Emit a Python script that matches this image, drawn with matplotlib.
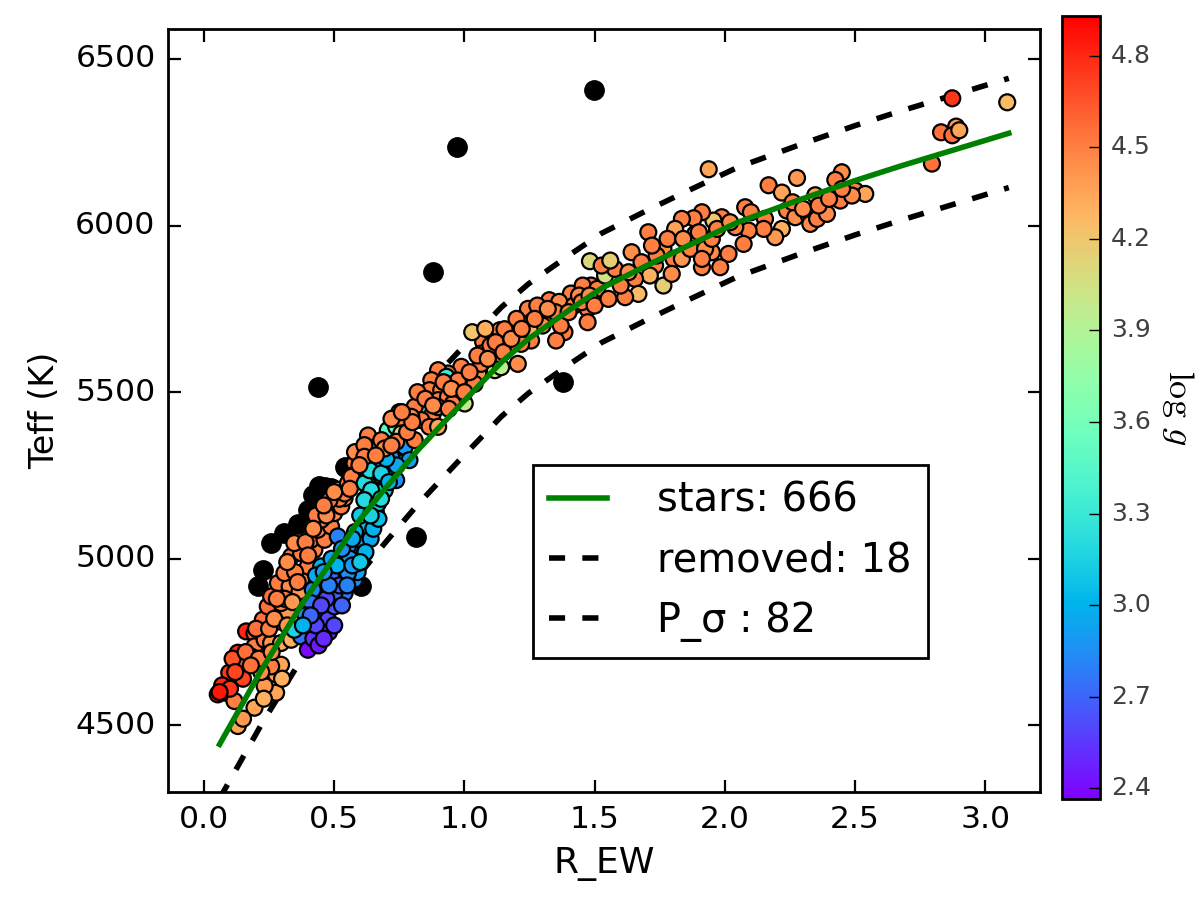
import matplotlib
matplotlib.use('Agg')
import matplotlib.pyplot as plt
import numpy as np

plt.style.use('classic')

# --- stars kept in the fit (R_EW, Teff, log g) ---
# cool dwarfs, low R_EW
dwarf_r = [0.053, 0.085, 0.097, 0.13, 0.162, 0.194, 0.117, 0.194, 0.13, 0.277,
           0.233, 0.277, 0.296, 0.258, 0.233, 0.194, 0.18, 0.233, 0.258, 0.296,
           0.335, 0.29, 0.226, 0.245, 0.322, 0.296, 0.258, 0.284, 0.329, 0.367,
           0.309, 0.373, 0.399, 0.335, 0.373, 0.347, 0.424, 0.411, 0.463, 0.437,
           0.488, 0.45, 0.5, 0.476, 0.527, 0.54, 0.514, 0.553, 0.591, 0.61,
           0.617, 0.578, 0.07, 0.10, 0.14, 0.15, 0.11, 0.16, 0.20, 0.22,
           0.25, 0.27, 0.31, 0.35, 0.39, 0.43, 0.47, 0.52, 0.57, 0.23,
           0.15, 0.30, 0.54, 0.482, 0.566, 0.28, 0.32, 0.36, 0.40, 0.42,
           0.46, 0.50, 0.56, 0.60, 0.21, 0.26, 0.32, 0.34, 0.18, 0.12,
           0.06, 0.58, 0.63]
dwarf_t = [4593, 4598, 4658, 4718, 4782, 4776, 4573, 4553, 4498, 4598,
           4618, 4653, 4682, 4677, 4717, 4737, 4707, 4757, 4747, 4747,
           4757, 4812, 4817, 4857, 4842, 4867, 4887, 4927, 4917, 4902,
           4957, 4937, 4977, 5007, 5017, 5047, 5027, 5057, 5057, 5087,
           5097, 5117, 5137, 5167, 5157, 5182, 5207, 5227, 5247, 5262,
           5337, 5287, 4620, 4610, 4680, 4640, 4700, 4720, 4790, 4660,
           4790, 4820, 4880, 4960, 5050, 5130, 5130, 5180, 5250, 4580,
           4520, 4640, 5196, 5176, 5246, 4880, 4990, 4930, 5010, 5090,
           5160, 5200, 5210, 5290, 4700, 4720, 4800, 4870, 4680, 4660,
           4600, 5320, 5370]
dwarf_g = [4.85, 4.8, 4.75, 4.8, 4.8, 4.6, 4.5, 4.35, 4.35, 4.35,
           4.4, 4.35, 4.35, 4.5, 4.55, 4.5, 4.6, 4.5, 4.4, 4.35,
           4.3, 4.5, 4.55, 4.55, 4.4, 4.5, 4.55, 4.5, 4.45, 4.4,
           4.5, 4.45, 4.5, 4.55, 4.5, 4.45, 4.5, 4.55, 4.5, 4.45,
           4.5, 4.5, 4.45, 4.5, 4.5, 4.45, 4.5, 4.5, 4.45, 4.5,
           4.45, 4.5, 4.8, 4.75, 4.6, 4.7, 4.65, 4.55, 4.55, 4.45,
           4.5, 4.45, 4.5, 4.5, 4.5, 4.5, 4.45, 4.5, 4.5, 4.3,
           4.4, 4.3, 4.5, 4.5, 4.5, 4.5, 4.45, 4.5, 4.5, 4.45,
           4.5, 4.45, 4.5, 4.45, 4.5, 4.45, 4.4, 4.4, 4.55, 4.7,
           4.85, 4.45, 4.5]

# giants (blue branch)
giant_r = [0.514, 0.553, 0.527, 0.488, 0.45, 0.463, 0.418, 0.411, 0.437, 0.399,
           0.476, 0.373, 0.399, 0.456, 0.501, 0.54, 0.578, 0.59, 0.591, 0.617,
           0.604, 0.63, 0.655, 0.642, 0.668, 0.655, 0.681, 0.707, 0.732, 0.668,
           0.617, 0.642, 0.347, 0.553, 0.501, 0.42, 0.44, 0.47, 0.52, 0.56,
           0.58, 0.49, 0.53, 0.60, 0.62, 0.70, 0.45, 0.48, 0.39, 0.43,
           0.51, 0.57, 0.64, 0.66, 0.69, 0.72, 0.771, 0.719, 0.668, 0.789,
           0.636, 0.681, 0.738, 0.694, 0.642, 0.616, 0.668, 0.661, 0.706, 0.738,
           0.43, 0.46, 0.50, 0.53, 0.55, 0.57, 0.62, 0.65, 0.67, 0.68,
           0.71, 0.74, 0.48, 0.46, 0.41, 0.38, 0.60, 0.64, 0.70]
giant_t = [5067, 5037, 4982, 4947, 4977, 4927, 4907, 4867, 4827, 4797,
           4817, 4767, 4727, 4777, 4857, 4897, 4937, 4960, 4987, 5017,
           5057, 5097, 5117, 5157, 5187, 5227, 5247, 5287, 5327, 5287,
           5227, 5317, 4787, 4957, 4897, 4760, 4740, 4880, 4920, 5000,
           5080, 5000, 5030, 5130, 5180, 5260, 4860, 4780, 4830, 4950,
           4980, 5060, 5060, 5140, 5210, 5250, 5336, 5306, 5296, 5296,
           5266, 5256, 5236, 5206, 5206, 5176, 5166, 5336, 5386, 5396,
           4800, 4760, 4800, 4860, 4920, 4980, 5020, 5090, 5120, 5180,
           5230, 5280, 4920, 4960, 4830, 4800, 4990, 5130, 5300]
giant_g = [2.8, 2.8, 2.75, 2.7, 3.0, 2.7, 2.8, 2.75, 2.65, 2.7,
           2.6, 2.75, 2.4, 2.5, 2.65, 2.75, 2.85, 2.9, 2.95, 3.2,
           3.0, 3.05, 2.95, 3.1, 3.1, 3.25, 3.0, 2.85, 3.0, 3.25,
           3.2, 3.5, 3.15, 2.85, 2.7, 2.55, 2.45, 2.6, 2.7, 2.9,
           3.0, 2.9, 2.85, 3.1, 3.15, 3.1, 2.6, 2.55, 2.85, 2.95,
           3.0, 2.95, 2.95, 3.1, 3.2, 2.95, 2.9, 2.85, 2.9, 2.9,
           3.2, 3.15, 2.85, 3.15, 3.2, 3.2, 3.15, 3.4, 3.45, 3.5,
           2.6, 2.5, 2.6, 2.7, 2.8, 2.9, 3.0, 3.0, 3.05, 3.2,
           3.0, 2.95, 2.8, 2.9, 2.7, 3.0, 3.1, 3.15, 3.0]

# middle of the relation
mid_r = [1.072, 1.136, 1.065, 1.117, 1.065, 0.988, 0.937, 0.899, 0.931, 0.873,
         0.963, 1.014, 1.053, 1.117, 0.866, 0.911, 0.835, 0.899, 0.937, 0.976,
         1.001, 0.847, 0.809, 0.879, 0.835, 0.796, 0.866, 0.899, 0.771, 0.758,
         0.809, 0.738, 0.681, 0.616, 0.694, 0.616, 0.597, 1.482, 1.486, 1.409,
         1.326, 1.364, 1.473, 1.244, 1.192, 1.154, 1.256, 1.333, 1.384, 1.352,
         1.256, 1.218, 1.205, 1.141, 1.128, 1.064, 0.975, 1.039, 0.898, 0.955,
         1.473, 1.454, 1.51, 1.30, 1.42, 1.17, 1.10, 1.25, 1.35, 1.44,
         1.20, 1.28, 1.03, 1.08, 0.82, 0.75, 0.72, 0.66, 0.85, 0.92,
         0.95, 1.02, 1.05, 1.09, 1.12, 1.15, 1.18, 1.22, 1.27, 1.32,
         1.37, 1.40, 1.45, 1.48, 1.50, 0.78, 0.80, 0.88, 0.94, 1.00,
         0.72, 0.76]
mid_t = [5651, 5686, 5616, 5606, 5586, 5576, 5556, 5566, 5546, 5536,
         5526, 5531, 5556, 5566, 5506, 5506, 5476, 5476, 5486, 5476,
         5466, 5456, 5456, 5436, 5416, 5426, 5396, 5396, 5406, 5376,
         5356, 5351, 5356, 5341, 5331, 5306, 5281, 5893, 5820, 5796,
         5776, 5771, 5750, 5750, 5684, 5689, 5710, 5730, 5680, 5655,
         5655, 5645, 5585, 5575, 5615, 5585, 5535, 5525, 5455, 5465,
         5710, 5820, 5810, 5700, 5760, 5640, 5640, 5690, 5740, 5790,
         5720, 5760, 5680, 5690, 5500, 5440, 5420, 5310, 5480, 5530,
         5510, 5560, 5610, 5600, 5650, 5620, 5660, 5690, 5720, 5750,
         5700, 5740, 5770, 5790, 5760, 5380, 5410, 5460, 5450, 5500,
         5340, 5440]
mid_g = [4.5, 4.5, 4.2, 4.5, 4.5, 4.5, 4.55, 4.5, 3.3, 4.5,
         4.45, 4.5, 4.45, 4.0, 4.5, 4.45, 4.5, 4.5, 4.5, 4.45,
         4.0, 3.3, 4.5, 4.5, 4.5, 4.45, 4.5, 4.35, 4.5, 4.05,
         4.5, 4.5, 4.5, 4.5, 4.45, 4.5, 4.5, 4.1, 4.5, 4.5,
         4.5, 4.45, 4.5, 4.5, 4.15, 4.5, 4.5, 4.5, 4.5, 4.5,
         4.5, 4.5, 4.45, 3.95, 4.5, 4.5, 4.5, 4.5, 4.5, 4.5,
         4.5, 4.5, 4.5, 4.45, 4.5, 4.5, 4.5, 4.3, 4.5, 4.45,
         4.5, 4.5, 4.2, 4.3, 4.5, 4.5, 4.45, 4.5, 4.5, 4.5,
         4.45, 4.5, 4.5, 4.45, 4.5, 4.5, 4.45, 4.5, 4.5, 4.45,
         4.5, 4.5, 4.5, 4.45, 4.5, 4.5, 4.5, 4.45, 4.5, 4.5,
         4.5, 4.5]

# warm stars, high R_EW
hot_r = [1.938, 2.873, 3.084, 2.83, 2.888, 2.873, 2.9, 2.795, 2.168, 2.277,
         2.219, 2.449, 2.424, 2.347, 2.443, 2.501, 2.539, 2.488, 2.078, 2.238,
         2.27, 2.154, 2.322, 2.328, 2.354, 2.392, 2.219, 2.193, 2.149, 2.091,
         2.072, 2.014, 1.982, 1.912, 1.95, 2.04, 1.988, 1.956, 1.912, 1.88,
         1.835, 1.809, 1.706, 1.642, 1.764, 1.803, 1.835, 1.867, 1.924, 1.95,
         1.912, 1.732, 1.712, 1.764, 1.796, 1.655, 1.668, 1.617, 1.553, 1.54,
         1.578, 1.527, 1.738, 1.886, 1.56, 1.60, 1.63, 1.68, 1.72, 1.78,
         1.84, 1.90, 1.97, 2.02, 2.10, 2.26, 2.30, 2.36, 2.45, 2.40]
hot_t = [6169, 6382, 6370, 6280, 6297, 6271, 6286, 6186, 6121, 6143,
         6099, 6160, 6137, 6091, 6075, 6105, 6095, 6090, 6055, 6045,
         6025, 6020, 6030, 6005, 6020, 6035, 5990, 5965, 5990, 5985,
         5945, 5915, 5875, 5875, 5920, 5995, 6025, 6015, 6040, 6022,
         6020, 5990, 5980, 5920, 5930, 5900, 5900, 5930, 5930, 5960,
         5900, 5880, 5850, 5820, 5855, 5840, 5795, 5785, 5780, 5850,
         5870, 5880, 5910, 5975, 5895, 5820, 5860, 5890, 5940, 5960,
         5960, 5980, 5990, 6010, 6040, 6070, 6050, 6060, 6110, 6080]
hot_g = [4.35, 4.75, 4.25, 4.55, 4.4, 4.55, 4.35, 4.55, 4.5, 4.4,
         4.35, 4.45, 4.5, 4.35, 4.5, 4.5, 4.35, 4.45, 4.5, 4.5,
         4.45, 4.5, 4.5, 4.45, 4.5, 4.45, 4.3, 4.4, 4.5, 4.5,
         4.5, 4.5, 4.5, 4.5, 4.45, 4.5, 4.5, 4.2, 4.5, 4.5,
         4.5, 4.35, 4.5, 4.45, 4.45, 4.5, 4.4, 4.5, 4.45, 4.5,
         4.5, 4.5, 4.3, 4.15, 4.45, 4.5, 4.25, 4.5, 4.5, 4.05,
         4.5, 4.5, 4.5, 4.5, 4.15, 4.5, 4.45, 4.5, 4.5, 4.5,
         4.45, 4.5, 4.5, 4.45, 4.5, 4.5, 4.45, 4.5, 4.5, 4.5]

# removed outliers (18)
rm_r = [1.496, 0.973, 0.88, 0.438, 1.38, 0.815, 0.54, 0.443, 0.488, 0.399,
        0.36, 0.309, 0.258, 0.226, 0.206, 0.604, 0.466, 0.42]
rm_t = [6407, 6235, 5862, 5515, 5530, 5065, 5276, 5217, 5212, 5147,
        5105, 5077, 5047, 4967, 4917, 4917, 5215, 5190]

# calibration curve and its band
fit_r = [0.06, 0.22, 0.373, 0.5, 0.591, 0.7, 0.82, 0.988, 1.142, 1.246,
         1.4, 1.527, 1.7, 1.846, 2.05, 2.296, 2.5, 2.68, 2.9, 3.09]
fit_t = [4443, 4665, 4860, 5005, 5110, 5215, 5325, 5465, 5590, 5660,
         5745, 5812, 5880, 5935, 6010, 6080, 6135, 6180, 6232, 6277]
up_t = [4608, 4830, 5025, 5170, 5275, 5380, 5490, 5630, 5755, 5825,
        5910, 5977, 6045, 6100, 6175, 6245, 6300, 6345, 6397, 6442]
low_t = [4280, 4502, 4697, 4842, 4947, 5052, 5162, 5302, 5427, 5497,
         5582, 5649, 5717, 5772, 5847, 5917, 5972, 6017, 6069, 6114]

cbar_ticks = [2.4, 2.7, 3.0, 3.3, 3.6, 3.9, 4.2, 4.5, 4.8]

r_ew = dwarf_r + giant_r + mid_r + hot_r
teff = dwarf_t + giant_t + mid_t + hot_t
logg = dwarf_g + giant_g + mid_g + hot_g

fig = plt.figure(figsize=(6, 4.5), dpi=200, facecolor='white')
ax = fig.add_axes([0.14, 0.12, 0.7267, 0.8478])

ax.plot(fit_r, up_t, color='black', lw=2, dashes=(5.8, 6.2), zorder=1, label='removed: 18')
ax.plot(fit_r, low_t, color='black', lw=2, dashes=(5.8, 6.2), zorder=1, label='P_σ : 82')
ax.scatter(rm_r, rm_t, s=42, c='black', edgecolors='black', zorder=2)
sc = ax.scatter(r_ew, teff, s=33, c=logg, cmap='rainbow', vmin=2.364, vmax=4.93,
                edgecolors='black', linewidths=0.8, zorder=3)
ax.plot(fit_r, fit_t, color='green', lw=2, zorder=4, label='stars: 666')

ax.set_xlim(-0.138, 3.21)
ax.set_ylim(4300, 6590)
ax.set_xticks([0.0, 0.5, 1.0, 1.5, 2.0, 2.5, 3.0])
ax.set_yticks([4500, 5000, 5500, 6000, 6500])
ax.tick_params(direction='in', length=4.5, width=0.8, labelsize=11.3, pad=4.5,
               top=True, right=True)
ax.set_xlabel('R_EW', fontsize=13)
ax.set_ylabel('Teff (K)', fontsize=12)

h, l = ax.get_legend_handles_labels()
order = [2, 0, 1]
leg = ax.legend([h[i] for i in order], [l[i] for i in order], loc='upper left',
                bbox_to_anchor=(0.4186, 0.4286), borderaxespad=0, fontsize=14.4,
                handlelength=1.45, handletextpad=1.25, numpoints=1,
                fancybox=False, frameon=True)
leg.get_frame().set_edgecolor('black')
leg.get_frame().set_linewidth(1.0)

cax = fig.add_axes([0.885, 0.112, 0.0317, 0.870])
cb = fig.colorbar(sc, cax=cax, ticks=cbar_ticks)
cb.ax.tick_params(direction='in', length=4, labelsize=9, labelcolor='#404040', pad=4)
cb.set_label(r'$\log\, g$', rotation=270, fontsize=13, labelpad=16)

fig.savefig('out.png', dpi=200, facecolor='white')
